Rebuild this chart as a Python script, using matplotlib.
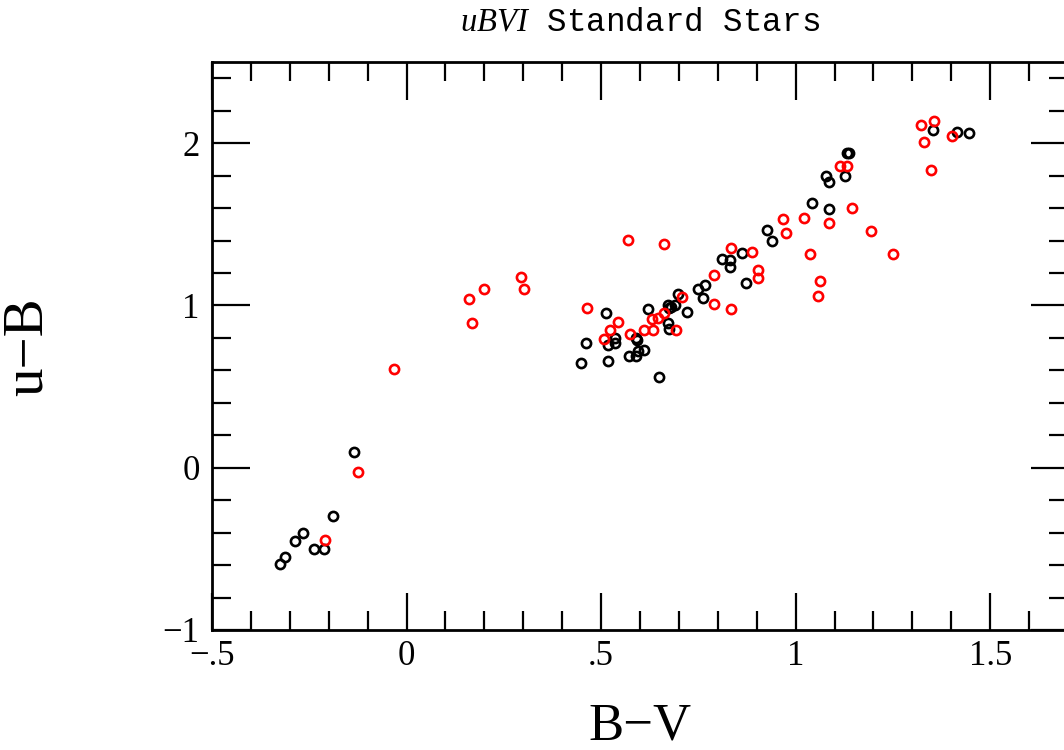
import matplotlib
matplotlib.use("Agg")
import matplotlib.pyplot as plt
from matplotlib.ticker import MultipleLocator

# ---- data (B-V, u-B) ----
black_bv = [-0.325, -0.312, -0.286, -0.265, -0.238, -0.211, -0.188, -0.134,
            0.449, 0.462, 0.513, 0.517, 0.519, 0.537, 0.537, 0.573, 0.590,
            0.594, 0.611, 0.590, 0.593, 0.650, 0.621, 0.671, 0.680, 0.690,
            0.675, 0.698, 0.721, 0.671, 0.675, 0.750, 0.767, 0.762, 0.812,
            0.832, 0.832, 0.861, 0.872, 0.926, 0.938, 1.043, 1.087, 1.079,
            1.087, 1.128, 1.131, 1.138, 1.353, 1.416, 1.445]
black_ub = [-0.593, -0.552, -0.450, -0.400, -0.500, -0.500, -0.300, 0.094,
            0.648, 0.771, 0.956, 0.757, 0.658, 0.798, 0.766, 0.689, 0.689,
            0.720, 0.726, 0.802, 0.790, 0.556, 0.976, 1.003, 0.990, 1.000,
            0.985, 1.069, 0.962, 0.894, 0.853, 1.100, 1.126, 1.048, 1.288,
            1.278, 1.237, 1.321, 1.136, 1.465, 1.397, 1.629, 1.592, 1.800,
            1.760, 1.797, 1.937, 1.940, 2.084, 2.070, 2.060]

red_bv = [-0.209, -0.124, -0.033, 0.161, 0.167, 0.198, 0.295, 0.301, 0.463,
          0.508, 0.524, 0.543, 0.575, 0.568, 0.662, 0.611, 0.633, 0.631,
          0.647, 0.662, 0.692, 0.709, 0.791, 0.791, 0.835, 0.833, 0.889,
          0.902, 0.903, 0.968, 0.974, 1.021, 1.085, 1.144, 1.194, 1.037,
          1.249, 1.062, 1.058, 1.114, 1.132, 1.321, 1.355, 1.331, 1.349,
          1.402]
red_ub = [-0.445, -0.025, 0.609, 1.038, 0.894, 1.100, 1.175, 1.103, 0.983,
          0.792, 0.847, 0.898, 0.823, 1.403, 1.380, 0.847, 0.847, 0.915,
          0.925, 0.956, 0.849, 1.054, 1.186, 1.006, 1.352, 0.980, 1.331,
          1.218, 1.167, 1.534, 1.448, 1.536, 1.506, 1.602, 1.458, 1.315,
          1.315, 1.151, 1.058, 1.858, 1.858, 2.109, 2.135, 2.009, 1.832,
          2.043]

x_ticks = [-0.5, 0, 0.5, 1, 1.5]
x_ticklabels = ["\u2212.5", "0", ".5", "1", "1.5"]
y_ticks = [-1, 0, 1, 2]
y_ticklabels = ["\u22121", "0", "1", "2"]

title_text = r"$uBVI$ Standard Stars"
xlabel_text = "B\u2212V"
ylabel_text = "u\u2212B"

# ---- style ----
plt.rcParams['font.family'] = ['Liberation Serif', 'DejaVu Serif']
plt.rcParams['mathtext.fontset'] = 'custom'
plt.rcParams['mathtext.it'] = 'Liberation Serif:italic'
plt.rcParams['mathtext.rm'] = 'Liberation Serif'

W, H = 1064, 750
fig = plt.figure(figsize=(W / 100, H / 100), dpi=100)
ax = fig.add_axes([212 / W, 1 - 630 / H, (1068 - 212) / W, (630 - 62) / H])

ax.plot(black_bv, black_ub, 'o', mfc='none', mec='black', ms=6.6, mew=1.9,
        linestyle='none')
ax.plot(red_bv, red_ub, 'o', mfc='none', mec='#ff0000', ms=6.6, mew=1.9,
        linestyle='none')

ax.set_xlim(-0.5, 1.7)
ax.set_ylim(-1, 2.5)

ax.set_xticks(x_ticks)
ax.set_xticklabels(x_ticklabels)
ax.set_yticks(y_ticks)
ax.set_yticklabels(y_ticklabels)
ax.xaxis.set_minor_locator(MultipleLocator(0.1))
ax.yaxis.set_minor_locator(MultipleLocator(0.2))

ax.tick_params(which='both', direction='in', top=True, right=True,
               width=1.6, color='black')
ax.tick_params(which='major', length=27)
ax.tick_params(which='minor', length=13.5)
ax.tick_params(axis='x', which='major', labelsize=25, pad=7)
ax.tick_params(axis='y', which='major', labelsize=25, pad=9)

for s in ax.spines.values():
    s.set_linewidth(2.0)

fig.text(640 / W, 1 - 22 / H, title_text, ha='center', va='center',
         fontsize=23.5, family=['Liberation Mono', 'DejaVu Sans Mono'])
fig.text(640 / W, 1 - 726 / H, xlabel_text, ha='center', va='center',
         fontsize=38)
fig.text(28 / W, 1 - 347 / H, ylabel_text, ha='center', va='center',
         fontsize=41, rotation=90)

fig.savefig('out.png', dpi=100)
